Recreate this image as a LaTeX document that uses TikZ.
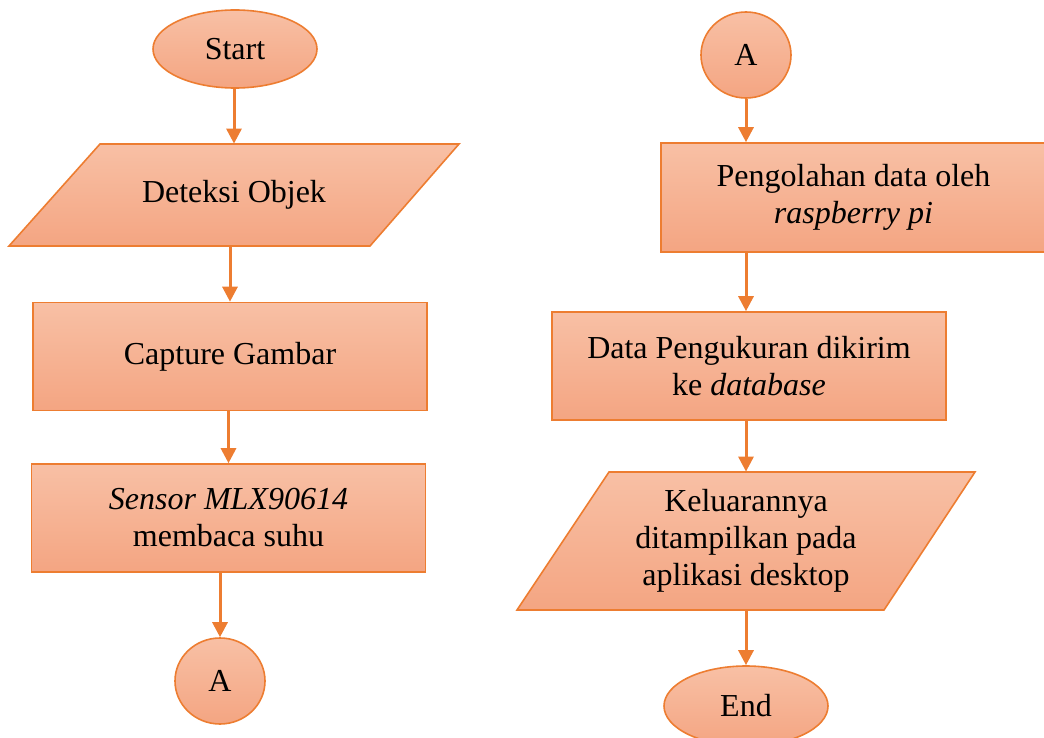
\documentclass[tikz,border=0pt]{standalone}
\usepackage{fontspec}
\setmainfont{Liberation Serif}
\usepackage{tikz}
\usetikzlibrary{arrows.meta,shapes.geometric}
\definecolor{flowedge}{RGB}{237,125,49}
\definecolor{flowtop}{RGB}{248,192,165}
\definecolor{flowbot}{RGB}{244,165,130}
\tikzset{
  fpaint/.style={draw=flowedge, line width=0.8pt, top color=flowtop, bottom color=flowbot},
  ftext/.style ={inner sep=2pt, align=center, font=\fontsize{16}{18.5}\selectfont},
  fbase/.style ={fpaint, ftext},
  fterm/.style ={fbase, ellipse, minimum width=82pt, minimum height=39pt},
  fconn/.style ={fbase, ellipse, minimum width=45pt, minimum height=43pt},
  fproc/.style ={fbase, rectangle, minimum width=197pt, minimum height=54pt},
  fio/.style   ={ftext, rectangle, minimum width=180pt},
  farrow/.style={-{Triangle[length=7.5pt, width=7.5pt]}, line width=1.5pt, flowedge},
}
\begin{document}
\begin{tikzpicture}[x=0.5pt, y=-0.5pt]
  \clip (0,0) rectangle (1044,738);
  \path[fpaint] (9,246) -- (100,144) -- (459,144) -- (370,246) -- cycle;
  \path[fpaint] (517,610) -- (609,472) -- (975,472) -- (884,610) -- cycle;
  \node[fterm] (start)   at (235,49)      {Start};
  \node[fio, minimum height=51pt] (deteksi) at (234,195) {Deteksi Objek};
  \node[fproc] (capture) at (230,356.5)   {Capture Gambar};
  \node[fproc] (sensor)  at (228.5,518)   {\textit{Sensor MLX90614}\\membaca suhu};
  \node[fconn] (a1)      at (220,681)     {A};
  \node[fconn] (a2)      at (746,55)      {A};
  \node[fproc, minimum width=192.5pt, minimum height=54.5pt]
               (peng)    at (853.5,197.5) {Pengolahan data oleh\\\textit{raspberry pi}};
  \node[fproc] (data)    at (749,366)     {Data Pengukuran dikirim\\ke \textit{database}};
  \node[fio, minimum height=69pt] (kel) at (746,541) {Keluarannya\\ditampilkan pada\\aplikasi desktop};
  \node[fterm, minimum height=40pt] (end) at (746,706) {End};
  \draw[farrow] (deteksi.north |- start.south) -- (deteksi.north);
  \draw[farrow] (capture.north |- deteksi.south) -- (capture.north);
  \draw[farrow] (sensor.north |- capture.south) -- (sensor.north);
  \draw[farrow] (a1.north |- sensor.south) -- (a1.north);
  \draw[farrow] (a2.south) -- (a2.south |- peng.north);
  \draw[farrow] (a2 |- peng.south) -- (a2 |- data.north);
  \draw[farrow] (kel.north |- data.south) -- (kel.north);
  \draw[farrow] (end.north |- kel.south) -- (end.north);
\end{tikzpicture}
\end{document}
